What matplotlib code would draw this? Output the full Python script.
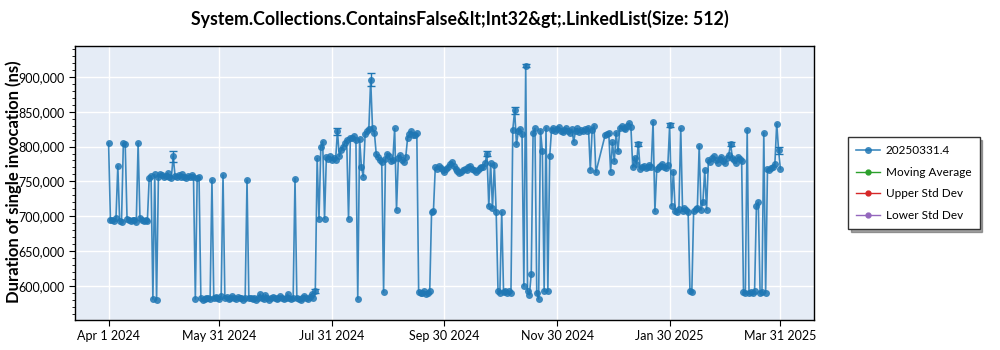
import datetime as dt
import numpy as np
import matplotlib
matplotlib.use("Agg")
import matplotlib.pyplot as plt
import matplotlib.dates as mdates
from matplotlib.ticker import FuncFormatter, MultipleLocator

plt.rcParams['font.family'] = ['Lato', 'DejaVu Sans']

title = "System.Collections.ContainsFalse&lt;Int32&gt;.LinkedList(Size: 512)"
series_name = "20250331.4"
start_date = dt.date(2024, 4, 1)
# days (offset from start) with no measurement
skip_days = [265, 266, 267, 268]

# one value per measured day, in thousands of ns
values_k = [
    805, 694, 695, 693, 697, 772, 693, 692, 805, 803,   # 0
    696, 694, 693, 695, 694, 692, 805, 697, 694, 693,   # 10
    695, 693, 755, 758, 581, 760, 580, 757, 761, 759,   # 20
    756, 758, 762, 757, 755, 786, 758, 757, 759, 756,   # 30
    760, 757, 755, 758, 756, 759, 757, 581, 755, 757,   # 40
    582, 580, 581, 583, 582, 581, 752, 582, 584, 583,   # 50
    581, 585, 759, 582, 584, 581, 583, 585, 582, 581,   # 60
    584, 583, 582, 580, 583, 752, 582, 583, 581, 582,   # 70
    580, 583, 588, 582, 581, 587, 583, 580, 582, 584,   # 80
    583, 581, 582, 585, 583, 581, 583, 588, 582, 581,   # 90
    583, 754, 582, 581, 580, 583, 586, 582, 581, 584,   # 100
    588, 583, 593, 783, 696, 800, 807, 696, 785, 782,   # 110
    786, 780, 784, 781, 822, 786, 795, 800, 805, 810,   # 120
    696, 812, 813, 815, 810, 581, 811, 770, 757, 818,   # 130
    822, 825, 896, 826, 820, 790, 785, 780, 778, 591,   # 140
    782, 790, 786, 779, 781, 826, 709, 784, 788, 781,   # 150
    778, 785, 812, 818, 822, 817, 816, 819, 591, 589,   # 160
    590, 592, 588, 590, 593, 706, 707, 770, 768, 772,   # 170
    769, 766, 764, 768, 771, 775, 778, 772, 768, 765,   # 180
    762, 764, 766, 768, 767, 770, 772, 768, 766, 764,   # 190
    767, 769, 771, 770, 776, 790, 714, 776, 712, 774,   # 200
    706, 592, 590, 706, 591, 593, 589, 592, 590, 824,   # 210
    852, 803, 822, 825, 818, 600, 916, 593, 587, 617,   # 220
    820, 826, 590, 581, 823, 794, 592, 827, 592, 786,   # 230
    824, 826, 822, 825, 828, 823, 821, 824, 826, 822,   # 240
    820, 825, 807, 823, 826, 821, 824, 822, 825, 823,   # 250
    827, 767, 824, 830, 763,                            # 260-264
    816, 818, 820, 764, 806, 779, 820, 793, 826, 829, 827,   # 269
    825, 830, 834, 828, 770, 784, 775, 804, 768, 770,   # 280
    772, 769, 771, 774, 770, 836, 707, 768, 770, 772,   # 290
    775, 770, 769, 773, 831, 715, 764, 708, 706, 710,   # 300
    826, 707, 712, 709, 706, 593, 591, 708, 710, 712,   # 310
    801, 709, 720, 766, 709, 781, 778, 783, 786, 780,   # 320
    777, 782, 785, 779, 776, 784, 788, 804, 783, 780,   # 330
    776, 785, 782, 779, 591, 590, 824, 589, 591, 590,   # 340
    592, 714, 720, 590, 591, 820, 590, 768, 767, 769,   # 350
    770, 775, 833, 795, 768,                            # 360
]
# visible error bars (day offset -> half width, thousands of ns)
errors_k = {35: 8, 112: 3, 124: 5, 142: 9, 205: 3, 220: 5, 226: 2,
            287: 3, 304: 3, 337: 3, 363: 5}

days = [d for d in range(365) if d not in skip_days]
assert len(days) == len(values_k)
dates = [start_date + dt.timedelta(days=d) for d in days]
values = np.array(values_k) * 1000

tick_dates = [dt.date(2024, 4, 1), dt.date(2024, 5, 31), dt.date(2024, 7, 31),
              dt.date(2024, 9, 30), dt.date(2024, 11, 30), dt.date(2025, 1, 30),
              dt.date(2025, 3, 31)]

blue = '#1f77b4'
fig = plt.figure(figsize=(10, 3.5), dpi=100)
ax = fig.add_axes([0.075, 0.086, 0.739, 0.783])
ax.set_facecolor('#E5ECF6')
ax.grid(True, color='white', linewidth=1)
ax.set_axisbelow(True)

ax.plot(dates, values, color=blue, lw=1.2, alpha=0.85, marker='o', ms=5,
        markeredgewidth=0, label=series_name)
err_days = sorted(errors_k)
ax.errorbar([start_date + dt.timedelta(days=d) for d in err_days],
            [values[days.index(d)] for d in err_days],
            yerr=[errors_k[d] * 1000 for d in err_days],
            fmt='none', ecolor=blue, elinewidth=1, capsize=3, capthick=1)
ax.plot([], [], color='#2ca02c', lw=1, marker='o', ms=3.5, label='Moving Average')
ax.plot([], [], color='#d62728', lw=1, marker='o', ms=3.5, label='Upper Std Dev')
ax.plot([], [], color='#9467bd', lw=1, marker='o', ms=3.5, label='Lower Std Dev')

ax.set_ylim(551000, 944700)
ax.yaxis.set_major_locator(MultipleLocator(50000))
ax.yaxis.set_minor_locator(MultipleLocator(10000))
ax.yaxis.set_major_formatter(FuncFormatter(lambda v, p: f"{int(v):,}"))
ax.set_xticks(tick_dates)
ax.xaxis.set_major_formatter(FuncFormatter(
    lambda v, p: (lambda d: f"{d.strftime('%b')} {d.day} {d.year}")(mdates.num2date(v))))
ax.tick_params(labelsize=9, length=4, color='black')
ax.tick_params(which='minor', length=2.5)
for s in ax.spines.values():
    s.set_color('black')
    s.set_linewidth(1)

fig.text(0.014, 0.48, "Duration of single invocation (ns)", rotation=90,
         ha='center', va='center', fontsize=12, fontweight='bold')
fig.text(0.46, 0.945, title, ha='center', va='center', fontsize=12.8, fontweight='bold')

leg = ax.legend(loc='upper left', bbox_to_anchor=(0.848, 0.609),
                bbox_transform=fig.transFigure, borderaxespad=0, fancybox=False,
                shadow=True, fontsize=8.5, frameon=True, handlelength=2,
                handletextpad=0.5, labelspacing=0.9, borderpad=0.7)
leg.get_frame().set_edgecolor('#333333')
leg.get_frame().set_linewidth(1)

fig.savefig('out.png', dpi=100)
